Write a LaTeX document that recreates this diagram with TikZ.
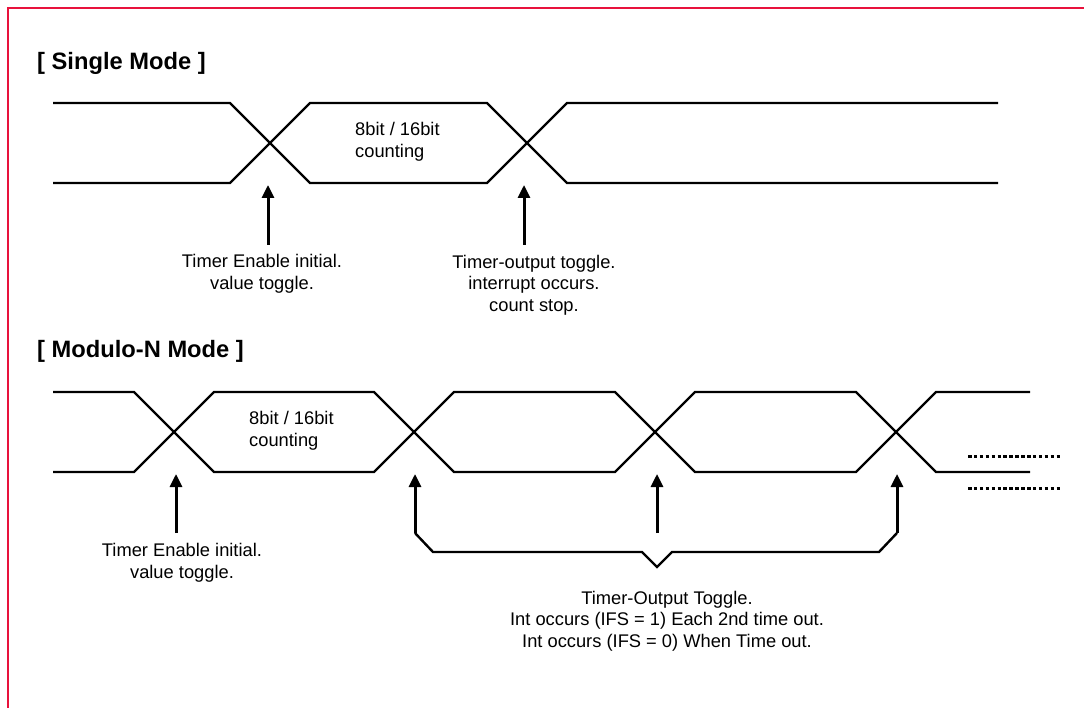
\documentclass[tikz,border=0pt]{standalone}
\usepackage{fontspec}
\setmainfont{Liberation Sans}
\usetikzlibrary{arrows.meta}
\definecolor{framered}{RGB}{232,18,60}
\tikzset{
  sig/.style={line width=2.4pt},
  trig/.style={line width=3pt,-{Triangle[length=13pt,width=12pt]}},
  dotline/.style={line width=3pt,dash pattern=on 3.5pt off 2.4pt},
  lbl/.style={inner sep=0pt,align=center,font=\fontsize{18.3}{21.5}\selectfont},
  cnt/.style={inner sep=0pt,align=left,anchor=west,font=\fontsize{18.3}{21.5}\selectfont},
  ttl/.style={inner sep=0pt,anchor=west,font=\bfseries\fontsize{23.7}{26}\selectfont}
}
\begin{document}
\begin{tikzpicture}[x=1pt,y=-1pt]
\useasboundingbox (0,0) rectangle (1084,708);
\draw[framered,line width=2.6pt] (8,708) -- (8,8) -- (1084,8);
\node[ttl] (sTitle) at (37,63) {[ Single Mode ]};
\draw[sig] (53,103) -- (230,103) -- (310,183) -- (487,183) -- (567,103) -- (998,103);
\draw[sig] (53,183) -- (230,183) -- (310,103) -- (487,103) -- (567,183) -- (998,183);
\node[cnt] (sCount) at (355,142) {8bit / 16bit\\counting};
\coordinate (sTip1) at (268,185);
\coordinate (sTail1) at (268,245);
\coordinate (sTip2) at (524,185);
\coordinate (sTail2) at (524,245);
\draw[trig] (sTail1) -- (sTip1);
\draw[trig] (sTail2) -- (sTip2);
\node[lbl] (sEnable) at (262,274) {Timer Enable initial.\\value toggle.};
\node[lbl] (sOut) at (534,285) {Timer-output toggle.\\interrupt occurs.\\count stop.};
\node[ttl] (mTitle) at (37,351) {[ Modulo-N Mode ]};
\draw[sig] (53,392) -- (134,392) -- (214,472) -- (374,472) -- (454,392) -- (615,392) -- (695,472) -- (856,472) -- (936,392) -- (1030,392);
\draw[sig] (53,472) -- (134,472) -- (214,392) -- (374,392) -- (454,472) -- (615,472) -- (695,392) -- (856,392) -- (936,472) -- (1030,472);
\node[cnt] (mCount) at (249,431) {8bit / 16bit\\counting};
\draw[dotline] (968,456) -- (1062,456);
\draw[dotline] (968,488) -- (1062,488);
\coordinate (mTip0) at (176,474);
\coordinate (mTail0) at (176,533);
\coordinate (mTip1) at (415,474);
\coordinate (mTail1) at (415,533);
\coordinate (mTip2) at (657,474);
\coordinate (mTail2) at (657,533);
\coordinate (mTip3) at (897,474);
\coordinate (mTail3) at (897,533);
\draw[trig] (mTail0) -- (mTip0);
\draw[trig] (mTail1) -- (mTip1);
\draw[trig] (mTail2) -- (mTip2);
\draw[trig] (mTail3) -- (mTip3);
\draw[sig] (mTail1) -- (433,552) -- (642,552) -- (657,567) -- (672,552) -- (879,552) -- (mTail3);
\node[lbl] (mEnable) at (182,563) {Timer Enable initial.\\value toggle.};
\node[lbl] (mOut) at (667,621) {Timer-Output Toggle.\\Int occurs (IFS = 1) Each 2nd time out.\\Int occurs (IFS = 0) When Time out.};
\end{tikzpicture}
\end{document}
